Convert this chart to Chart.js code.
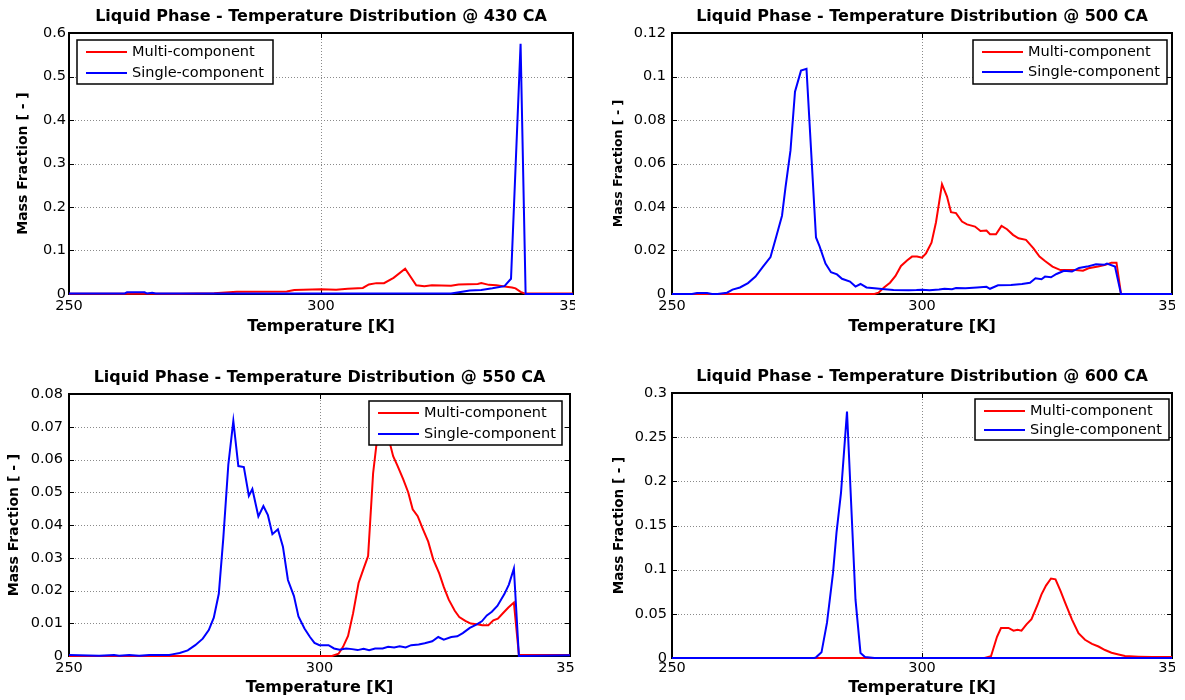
<!DOCTYPE html>
<html>
<head>
<meta charset="utf-8">
<title>Liquid Phase - Temperature Distribution</title>
<style>
  * { margin: 0; padding: 0; box-sizing: border-box; }
  body { width: 1185px; height: 700px; background: #fff; position: relative; overflow: hidden; }
  /* each panel clips its canvas so the last x label shows as "35", like the source image */
  .panel { position: absolute; overflow: hidden; }
  .panel canvas { position: absolute; left: 0; top: 0; }
</style>
</head>
<body>
<div class="panel" style="left:0;top:0;width:575px;height:345px"><canvas id="c430" width="600" height="345"></canvas></div>
<div class="panel" style="left:590px;top:0;width:585px;height:345px"><canvas id="c500" width="610" height="345"></canvas></div>
<div class="panel" style="left:0;top:361px;width:575px;height:339px"><canvas id="c550" width="600" height="339"></canvas></div>
<div class="panel" style="left:590px;top:360px;width:585px;height:340px"><canvas id="c600" width="610" height="340"></canvas></div>

<script src="https://cdn.jsdelivr.net/npm/chart.js"></script>
<script>
// ---- data ----
const xTicks = [250, 300, 350];

// 430 CA
const yTicks430 = [0, 0.1, 0.2, 0.3, 0.4, 0.5, 0.6];
const temp430Multi = [250, 272, 278.8, 283.3, 293.2, 294.7, 300, 303, 305.3, 308.3, 309.5, 311, 312.5, 314.4, 316.7, 318.9, 320.5, 322, 325.8, 327.3, 331.1, 331.8, 333.3, 334.8, 336.4, 337.9, 338.6, 339.6, 340.5, 350];
const frac430Multi = [0.0005, 0.0005, 0.002, 0.005, 0.006, 0.009, 0.011, 0.010, 0.012, 0.014, 0.022, 0.025, 0.025, 0.037, 0.058, 0.020, 0.018, 0.020, 0.019, 0.022, 0.023, 0.025, 0.021, 0.020, 0.017, 0.015, 0.013, 0.005, 0.001, 0.001];
const temp430Single = [250, 261, 261.5, 265, 265.5, 266.5, 267.2, 300, 325.8, 328, 329.5, 331.8, 334, 336.4, 337.7, 339.6, 340.6, 350];
const frac430Single = [0.001, 0.001, 0.004, 0.004, 0.001, 0.003, 0.001, 0.001, 0.001, 0.005, 0.008, 0.009, 0.013, 0.018, 0.035, 0.575, 0, 0];

// 500 CA
const yTicks500 = [0, 0.02, 0.04, 0.06, 0.08, 0.1, 0.12];
const temp500Multi = [250, 290.5, 291.3, 292.4, 293.6, 294.7, 295.8, 297, 298, 299, 300, 300.8, 301.9, 302.8, 304, 305, 305.8, 306.8, 308, 309, 310.6, 311.7, 312.9, 313.6, 314.8, 315.9, 317, 318.2, 319.3, 320.8, 322.3, 323.5, 324.6, 326.1, 327.7, 329.2, 330.7, 332.2, 333.3, 335.2, 336.7, 337.9, 338.9, 339.8, 350];
const frac500Multi = [0, 0, 0.0006, 0.003, 0.0052, 0.0083, 0.0129, 0.0154, 0.0172, 0.0172, 0.0167, 0.0187, 0.0236, 0.033, 0.0505, 0.0448, 0.0376, 0.0372, 0.0333, 0.032, 0.031, 0.029, 0.0292, 0.0275, 0.0275, 0.0313, 0.0298, 0.0272, 0.0256, 0.0249, 0.021, 0.0172, 0.0152, 0.0126, 0.011, 0.011, 0.011, 0.0107, 0.0118, 0.0126, 0.0134, 0.0144, 0.0144, 0, 0];
const temp500Single = [250, 254, 255, 257, 258, 259.1, 261, 262.1, 263.6, 265.2, 266.7, 268.2, 269.7, 270.8, 272, 272.7, 273.7, 274.6, 275.8, 276.9, 278.8, 279.5, 280.7, 281.8, 283, 284, 285.6, 286.7, 287.7, 288.9, 290.5, 292, 294.3, 297.3, 298.9, 300, 301.5, 303.4, 304.5, 306, 306.8, 308.7, 311, 312.9, 313.6, 315.2, 317.8, 320, 321.6, 322.7, 323.9, 324.6, 325.8, 326.9, 328.4, 330, 331.4, 333, 334.8, 336.4, 337, 338.6, 339.8, 350];
const frac500Single = [0, 0, 0.0005, 0.0005, 0, 0, 0.0006, 0.002, 0.003, 0.005, 0.008, 0.0126, 0.017, 0.026, 0.036, 0.049, 0.066, 0.093, 0.1027, 0.1035, 0.026, 0.022, 0.014, 0.010, 0.009, 0.007, 0.0057, 0.0034, 0.0046, 0.003, 0.0026, 0.0023, 0.0018, 0.0017, 0.0018, 0.002, 0.0017, 0.0021, 0.0024, 0.0022, 0.0027, 0.0026, 0.003, 0.0033, 0.0024, 0.004, 0.0041, 0.0046, 0.0052, 0.0072, 0.0068, 0.008, 0.0077, 0.0092, 0.0107, 0.0103, 0.012, 0.0126, 0.0137, 0.0134, 0.014, 0.0126, 0, 0];

// 550 CA
const yTicks550 = [0, 0.01, 0.02, 0.03, 0.04, 0.05, 0.06, 0.07, 0.08];
const temp550Multi = [250, 302.5, 303.8, 304.7, 305.7, 306.7, 307.8, 308.8, 309.7, 310.7, 311.7, 312.7, 313.7, 314.7, 315.6, 316.7, 317.7, 318.6, 319.6, 320.7, 321.7, 322.7, 323.9, 324.8, 325.8, 327, 327.9, 329.1, 330.2, 331.4, 332.5, 333.7, 334.7, 335.6, 336.7, 337.7, 338.8, 339.8, 350];
const frac550Multi = [0, 0, 0.0007, 0.0028, 0.0061, 0.013, 0.0223, 0.0267, 0.0305, 0.0558, 0.069, 0.072, 0.067, 0.061, 0.058, 0.054, 0.05, 0.0448, 0.0427, 0.0385, 0.0349, 0.0295, 0.0252, 0.0211, 0.0172, 0.0138, 0.0119, 0.0107, 0.0099, 0.0097, 0.0094, 0.0094, 0.0109, 0.0114, 0.0132, 0.0148, 0.0163, 0.0004, 0.0003];
const temp550Single = [250, 256, 259, 260, 262, 264, 266, 270, 270.6, 272.1, 273.7, 275.2, 276.7, 277.9, 278.9, 279.9, 280.8, 281.8, 282.8, 283.8, 284.9, 285.9, 286.6, 287.8, 288.8, 289.7, 290.6, 291.7, 292.7, 293.7, 294.9, 295.8, 297, 298.1, 299, 300, 301.8, 302.9, 304, 305.3, 306.5, 307.6, 308.8, 309.9, 311.1, 312.6, 313.7, 314.9, 316, 317.2, 318.3, 319.8, 321, 322.5, 323.7, 324.8, 326.3, 327.5, 328.6, 330, 331.3, 332.4, 333.4, 334.4, 335.5, 336.9, 337.8, 338.8, 339.8, 350];
const frac550Single = [0.0003, 0.0001, 0.0003, 0.0001, 0.0003, 0.0001, 0.0003, 0.0003, 0.0005, 0.0009, 0.0017, 0.0033, 0.0053, 0.0079, 0.0117, 0.019, 0.036, 0.0584, 0.0718, 0.058, 0.0577, 0.0489, 0.051, 0.0426, 0.0458, 0.043, 0.0372, 0.0387, 0.0334, 0.0232, 0.0183, 0.0121, 0.0084, 0.0058, 0.004, 0.0033, 0.0033, 0.0023, 0.0019, 0.0023, 0.0021, 0.0018, 0.0022, 0.0018, 0.0023, 0.0023, 0.0028, 0.0026, 0.003, 0.0026, 0.0033, 0.0035, 0.0039, 0.0045, 0.0058, 0.005, 0.0058, 0.006, 0.007, 0.0086, 0.0096, 0.0106, 0.0124, 0.0135, 0.0153, 0.0189, 0.0218, 0.0267, 0, 0.0002];

// 600 CA
const yTicks600 = [0, 0.05, 0.1, 0.15, 0.2, 0.25, 0.3];
const temp600Multi = [250, 312.5, 313.8, 315, 315.8, 317.3, 318.3, 319.1, 319.9, 320.9, 321.9, 323.1, 323.9, 324.8, 325.8, 326.7, 327.7, 328.6, 330, 331.3, 332.6, 334, 335.3, 336.6, 337.9, 339.3, 340.6, 343.3, 346, 350];
const frac600Multi = [0, 0, 0.002, 0.024, 0.034, 0.034, 0.031, 0.032, 0.031, 0.038, 0.044, 0.06, 0.072, 0.082, 0.09, 0.089, 0.076, 0.063, 0.0435, 0.028, 0.0206, 0.016, 0.013, 0.009, 0.006, 0.004, 0.0023, 0.0015, 0.001, 0.001];
const temp600Single = [250, 278.5, 278.8, 279.9, 281, 282.2, 282.9, 283.8, 285, 286.7, 287.7, 288.6, 290.5, 350];
const frac600Single = [0, 0, 0.0008, 0.0064, 0.04, 0.096, 0.142, 0.187, 0.279, 0.066, 0.0057, 0.0011, 0, 0];

const FAMILY = "'DejaVu Sans', sans-serif";

function pairs(xs, ys) {
  return xs.map((x, i) => ({x: x, y: ys[i]}));
}

// matlab-ish axes: dotted grid, inner ticks, box, and a boxed legend inside the plot
const matlabBox = {
  id: 'matlabBox',
  beforeDatasetsDraw(chart) {
    const {ctx, chartArea: a, scales: {x, y}} = chart;
    ctx.save();
    ctx.lineWidth = 1;
    ctx.strokeStyle = '#8a8a8a';
    ctx.setLineDash([1, 2]);
    x.ticks.forEach(t => {
      const px = Math.round(x.getPixelForValue(t.value)) + 0.5;
      if (px < a.left + 3 || px > a.right - 3) return;
      ctx.beginPath(); ctx.moveTo(px, a.top); ctx.lineTo(px, a.bottom); ctx.stroke();
    });
    y.ticks.forEach(t => {
      const py = Math.round(y.getPixelForValue(t.value)) + 0.5;
      if (py < a.top + 3 || py > a.bottom - 3) return;
      ctx.beginPath(); ctx.moveTo(a.left, py); ctx.lineTo(a.right, py); ctx.stroke();
    });
    ctx.setLineDash([]);
    ctx.strokeStyle = '#000';
    x.ticks.forEach(t => {
      const px = Math.round(x.getPixelForValue(t.value)) + 0.5;
      ctx.beginPath();
      ctx.moveTo(px, a.bottom); ctx.lineTo(px, a.bottom - 5);
      ctx.moveTo(px, a.top); ctx.lineTo(px, a.top + 5);
      ctx.stroke();
    });
    y.ticks.forEach(t => {
      const py = Math.round(y.getPixelForValue(t.value)) + 0.5;
      ctx.beginPath();
      ctx.moveTo(a.left, py); ctx.lineTo(a.left + 5, py);
      ctx.moveTo(a.right, py); ctx.lineTo(a.right - 5, py);
      ctx.stroke();
    });
    ctx.lineWidth = 2;
    ctx.strokeRect(a.left, a.top, a.right - a.left, a.bottom - a.top);
    ctx.restore();
  },
  afterDatasetsDraw(chart, args, o) {
    const {ctx, chartArea: a} = chart;
    const bx = o.side === 'left' ? a.left + o.dx : a.right - o.dx - o.w;
    const by = a.top + o.dy;
    ctx.save();
    ctx.fillStyle = '#fff';
    ctx.fillRect(bx, by, o.w, o.h);
    ctx.strokeStyle = '#000';
    ctx.lineWidth = 1.5;
    ctx.strokeRect(bx, by, o.w, o.h);
    ctx.font = '14.5px ' + FAMILY;
    ctx.textBaseline = 'middle';
    chart.data.datasets.forEach((ds, i) => {
      const ry = by + o.rows[i];
      ctx.strokeStyle = ds.borderColor;
      ctx.lineWidth = 2;
      ctx.beginPath(); ctx.moveTo(bx + 9, ry); ctx.lineTo(bx + 50, ry); ctx.stroke();
      ctx.fillStyle = '#000';
      ctx.fillText(ds.label, bx + 55, ry);
    });
    ctx.restore();
  }
};

function makePanel(id, p) {
  return new Chart(document.getElementById(id), {
    type: 'line',
    data: {
      datasets: [
        {label: 'Multi-component', data: pairs(p.multiT, p.multiV), borderColor: '#ff0000', order: 2, clip: 2},
        {label: 'Single-component', data: pairs(p.singleT, p.singleV), borderColor: '#0000ff', order: 1, clip: 2}
      ]
    },
    options: {
      responsive: false,
      animation: false,
      devicePixelRatio: 1,
      layout: {padding: {left: 0, right: p.padRight, top: 0, bottom: 0}},
      elements: {
        line: {borderWidth: 2, tension: 0, fill: false},
        point: {radius: 0}
      },
      scales: {
        x: {
          type: 'linear', min: 250, max: 350,
          grid: {display: false, drawTicks: false},
          border: {display: false},
          afterBuildTicks: s => { s.ticks = xTicks.map(v => ({value: v})); },
          afterFit: s => { s.height = p.xAxisH; },
          ticks: {
            color: '#000', font: {family: FAMILY, size: 14.5},
            padding: p.xTickPad, maxRotation: 0, autoSkip: false
          },
          title: {
            display: true, text: 'Temperature [K]', color: '#000',
            font: {family: FAMILY, size: 16, weight: 'bold'},
            padding: {top: 0, bottom: p.xTitlePad}
          }
        },
        y: {
          min: 0, max: p.yTicks[p.yTicks.length - 1],
          grid: {display: false, drawTicks: false},
          border: {display: false},
          afterBuildTicks: s => { s.ticks = p.yTicks.map(v => ({value: v})); },
          afterFit: s => { s.width = p.yAxisW; },
          ticks: {
            color: '#000', font: {family: FAMILY, size: 14.5},
            padding: p.yTickPad, autoSkip: false,
            callback: v => String(v)
          },
          title: {
            display: true, text: 'Mass Fraction [ - ]', color: '#000',
            font: {family: FAMILY, size: p.yTitleSize, weight: 'bold'},
            padding: {top: p.yTitlePad, bottom: 0}
          }
        }
      },
      plugins: {
        legend: {display: false},
        tooltip: {enabled: false},
        title: {
          display: true, fullSize: false, text: p.title, color: '#000',
          font: {family: FAMILY, size: 16, weight: 'bold', lineHeight: 1.25},
          padding: {top: 7, bottom: 6}
        },
        matlabBox: p.legend
      }
    },
    plugins: [matlabBox]
  });
}

makePanel('c430', {
  title: 'Liquid Phase - Temperature Distribution @ 430 CA',
  multiT: temp430Multi, multiV: frac430Multi, singleT: temp430Single, singleV: frac430Single,
  yTicks: yTicks430,
  padRight: 27, yAxisW: 69, xAxisH: 51, xTickPad: 4, xTitlePad: 8.4, yTickPad: 3,
  yTitleSize: 14, yTitlePad: 15.3,
  legend: {side: 'left', dx: 8, dy: 7, w: 196, h: 44, rows: [12, 33]}
});

makePanel('c500', {
  title: 'Liquid Phase - Temperature Distribution @ 500 CA',
  multiT: temp500Multi, multiV: frac500Multi, singleT: temp500Single, singleV: frac500Single,
  yTicks: yTicks500,
  padRight: 28, yAxisW: 82, xAxisH: 51, xTickPad: 4, xTitlePad: 8.4, yTickPad: 6,
  yTitleSize: 12.5, yTitlePad: 21.5,
  legend: {side: 'right', dx: 5, dy: 7, w: 194, h: 44, rows: [12, 32]}
});

makePanel('c550', {
  title: 'Liquid Phase - Temperature Distribution @ 550 CA',
  multiT: temp550Multi, multiV: frac550Multi, singleT: temp550Single, singleV: frac550Single,
  yTicks: yTicks550,
  padRight: 30, yAxisW: 69, xAxisH: 44, xTickPad: 4, xTitlePad: 2.1, yTickPad: 6,
  yTitleSize: 14, yTitlePad: 6.1,
  legend: {side: 'right', dx: 8, dy: 7, w: 193, h: 44, rows: [12, 33]}
});

makePanel('c600', {
  title: 'Liquid Phase - Temperature Distribution @ 600 CA',
  multiT: temp600Multi, multiV: frac600Multi, singleT: temp600Single, singleV: frac600Single,
  yTicks: yTicks600,
  padRight: 28, yAxisW: 82, xAxisH: 42, xTickPad: 2, xTitlePad: 2.9, yTickPad: 5,
  yTitleSize: 13.5, yTitlePad: 20.9,
  legend: {side: 'right', dx: 3, dy: 6, w: 194, h: 41, rows: [12, 31]}
});
</script>
</body>
</html>
